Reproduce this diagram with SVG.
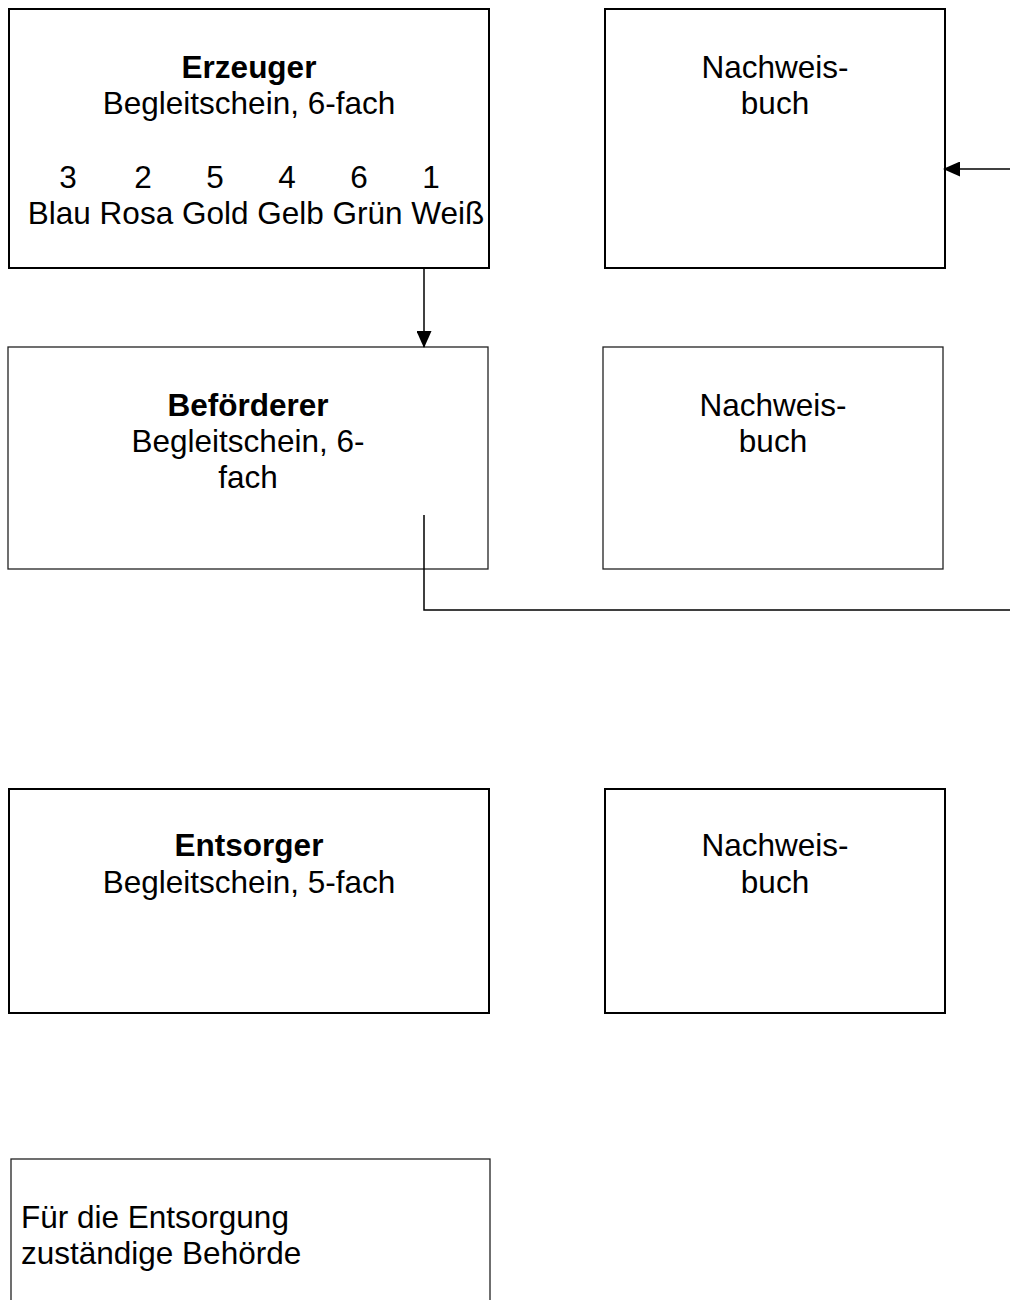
<svg xmlns="http://www.w3.org/2000/svg" width="1010" height="1300" viewBox="0 0 1010 1300">
<style>
.thick{fill:#fff;stroke:#000;stroke-width:2}
.thin{fill:#fff;stroke:#222;stroke-width:1.3}
text{font-family:"Liberation Sans",Arial,sans-serif;font-size:31.5px;fill:#000}
.c{text-anchor:middle}
.b{font-weight:bold}
.conn{fill:none;stroke:#000;stroke-width:1.5}
</style>
<defs>
<marker id="ah2" markerWidth="17" markerHeight="15" refX="16" refY="7.5" orient="auto" markerUnits="userSpaceOnUse" viewBox="0 0 17 15">
<path d="M0,0 L17,7.5 L0,15 Z" fill="#000"/>
</marker>
</defs>
<rect width="1010" height="1300" fill="#fff"/>
<g id="erzeuger">
<rect class="thick" x="9" y="9" width="480" height="259"/>
<text class="c b" x="249" y="78">Erzeuger</text>
<text class="c" x="249" y="114">Begleitschein, 6-fach</text>
<text class="c" x="68" y="188">3</text>
<text class="c" x="143" y="188">2</text>
<text class="c" x="215" y="188">5</text>
<text class="c" x="287" y="188">4</text>
<text class="c" x="359" y="188">6</text>
<text class="c" x="431" y="188">1</text>
<text class="c" x="256" y="224">Blau Rosa Gold Gelb Grün Weiß</text>
</g>
<g id="nachweisbuch1">
<rect class="thick" x="605" y="9" width="340" height="259"/>
<text class="c" x="775" y="78">Nachweis-</text>
<text class="c" x="775" y="114">buch</text>
</g>
<g id="befoerderer">
<rect class="thin" x="8" y="347" width="480" height="222"/>
<text class="c b" x="248" y="416">Beförderer</text>
<text class="c" x="248" y="452">Begleitschein, 6-</text>
<text class="c" x="248" y="488">fach</text>
</g>
<g id="nachweisbuch2">
<rect class="thin" x="603" y="347" width="340" height="222"/>
<text class="c" x="773" y="416">Nachweis-</text>
<text class="c" x="773" y="452">buch</text>
</g>
<g id="entsorger">
<rect class="thick" x="9" y="789" width="480" height="224"/>
<text class="c b" x="249" y="856">Entsorger</text>
<text class="c" x="249" y="893">Begleitschein, 5-fach</text>
</g>
<g id="nachweisbuch3">
<rect class="thick" x="605" y="789" width="340" height="224"/>
<text class="c" x="775" y="856">Nachweis-</text>
<text class="c" x="775" y="893">buch</text>
</g>
<g id="behoerde">
<rect class="thin" x="11" y="1159" width="479" height="160"/>
<text x="21" y="1228">Für die Entsorgung</text>
<text x="21" y="1264">zuständige Behörde</text>
</g>
<g id="connectors">
<line class="conn" x1="424" y1="268" x2="424" y2="347" marker-end="url(#ah2)"/>
<line class="conn" x1="1010" y1="169" x2="944" y2="169" marker-end="url(#ah2)"/>
<polyline class="conn" points="424,515 424,610 1010,610"/>
</g>
</svg>
